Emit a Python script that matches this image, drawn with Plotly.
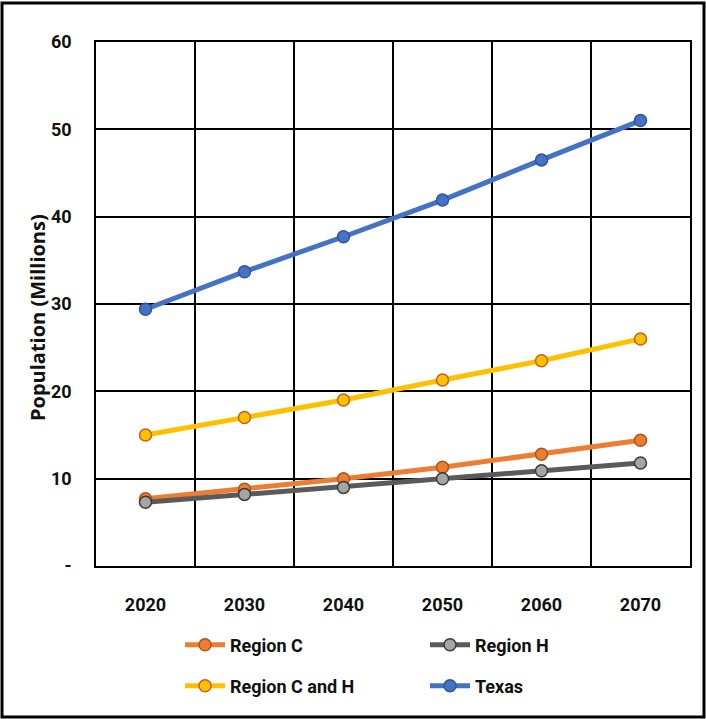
import plotly.graph_objects as go

years = ["2020", "2030", "2040", "2050", "2060", "2070"]
region_c = [7.7, 8.8, 10.0, 11.3, 12.8, 14.4]
region_h = [7.3, 8.2, 9.0, 10.0, 10.9, 11.8]
region_ch = [15.0, 17.0, 19.0, 21.3, 23.5, 26.0]
texas = [29.4, 33.7, 37.7, 41.9, 46.5, 51.0]
y_tickvals = [0, 10, 20, 30, 40, 50, 60]
y_ticktext = ["-", "10", "20", "30", "40", "50", "60"]

NARROW = "Roboto"
TITLEF = "Open Sans"

series = [
    ("Region C", region_c, "#ED7D31", "#ED7D31", "#A9551C", "legend"),
    ("Region H", region_h, "#5A5A5A", "#A5A5A5", "#3A3A3A", "legend"),
    ("Region C and H", region_ch, "#FFC000", "#FFC000", "#C5601A", "legend2"),
    ("Texas", texas, "#4472C4", "#4472C4", "#2F5597", "legend2"),
]

fig = go.Figure()
for name, vals, lc, mf, mo, lg in series:
    fig.add_trace(go.Scatter(
        x=years, y=vals, name=name, mode="lines+markers",
        line=dict(color=lc, width=5),
        marker=dict(size=12, color=mf, line=dict(color=mo, width=1.5)),
        legend=lg,
    ))

W, H = 706, 719
L, R, T, B = 96, 16, 42, 153
pw, ph = W - L - R, H - T - B

def px(x):
    return (x - L) / pw

def py(y):
    return (H - B - y) / ph

legend_common = dict(
    orientation="h", xanchor="left", yanchor="middle",
    font=dict(family=NARROW, size=18, color="#111111", weight="bold"),
    entrywidth=190, entrywidthmode="pixels",
    bgcolor="rgba(0,0,0,0)", itemwidth=40,
)

tickfont = dict(family=NARROW, size=18, color="#111111", weight="bold")

fig.update_layout(
    width=W, height=H,
    margin=dict(l=L, r=R, t=T, b=B),
    paper_bgcolor="white", plot_bgcolor="white",
    font=dict(family=NARROW, size=16, color="#111111"),
    showlegend=True,
    legend=dict(x=px(180), y=py(645), **legend_common),
    legend2=dict(x=px(180), y=py(686), **legend_common),
    xaxis=dict(
        type="category", tickson="boundaries", range=[-0.5, 5.5],
        showgrid=True, gridcolor="black", gridwidth=1.5,
        showline=True, linecolor="black", linewidth=1.5, mirror=True,
        ticks="", ticklabelstandoff=22,
        tickfont=tickfont,
        zeroline=False,
    ),
    yaxis=dict(
        range=[0, 60], tickvals=y_tickvals, ticktext=y_ticktext,
        showgrid=True, gridcolor="black", gridwidth=1.5,
        showline=True, linecolor="black", linewidth=1.5, mirror=True,
        ticks="", ticklabelstandoff=19,
        tickfont=tickfont,
        zeroline=False,
    ),
    annotations=[dict(
        text="Population (Millions)", textangle=-90,
        xref="paper", yref="paper", x=px(37), y=py(318),
        xanchor="center", yanchor="middle", showarrow=False,
        font=dict(family=TITLEF, size=20, color="#111111", weight="bold"),
    )],
    shapes=[dict(
        type="rect", xref="paper", yref="paper",
        x0=px(2), x1=px(704), y0=py(717), y1=py(3),
        line=dict(color="black", width=3), fillcolor="rgba(0,0,0,0)",
        layer="above",
    )],
)

fig.write_html("out.html")
